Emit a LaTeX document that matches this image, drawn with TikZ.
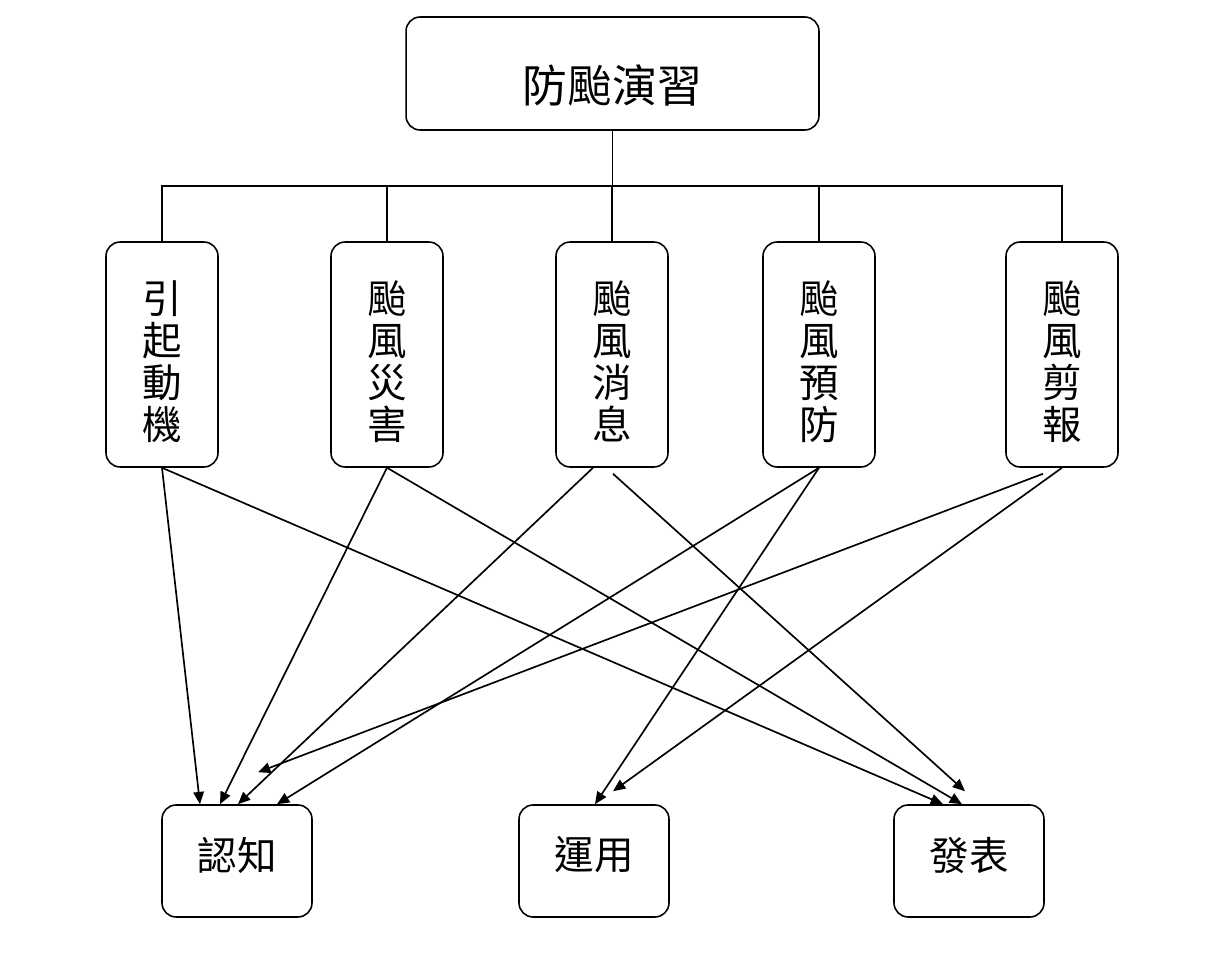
\documentclass[tikz,border=0pt]{standalone}
\usepackage{fontspec}
\setmainfont{Noto Sans CJK TC}
\usetikzlibrary{arrows.meta,calc}

\tikzset{
    box/.style={draw, rounded corners=8pt, line width=0.9pt, align=center},
    colbox/.style={box, minimum width=2.24cm, minimum height=4.5cm,
        font=\fontsize{22.5}{23.8}\selectfont},
    goalbox/.style={box, minimum width=3cm, minimum height=2.24cm,
        font=\fontsize{22.5}{24}\selectfont},
    link/.style={line width=0.95pt, -{Triangle[length=7pt,width=6pt]}}
}

\begin{document}
\begin{tikzpicture}[x=0.02cm, y=-0.02cm]
        \useasboundingbox (0,0) rectangle (1218,979);

        % Title
        \node[box, minimum width=8.26cm, minimum height=2.26cm,
            font=\fontsize{25.5}{27}\selectfont] (drill) at (612.5,73.5)
            {\raisebox{-6.8pt}[\height][\depth]{防颱演習}};

        % Activities
        \foreach \name/\x/\txt in {act1/162/引\\起\\動\\機, act2/387/颱\\風\\災\\害,
                act3/612/颱\\風\\消\\息, act4/819/颱\\風\\預\\防, act5/1062/颱\\風\\剪\\報} {
            \node[colbox] (\name) at (\x,354.5)
                {\raisebox{-4pt}[\height][\depth]{\parbox{1em}{\centering\txt}}};
        }

        % Goals
        \node[goalbox] (know) at (237,861) {\raisebox{3.4pt}[\height][\depth]{認知}};
        \node[goalbox] (use) at (594,861) {\raisebox{3.4pt}[\height][\depth]{運用}};
        \node[goalbox] (show) at (969,861) {\raisebox{3.4pt}[\height][\depth]{發表}};

        % Tree lines
        \coordinate (bus) at (612.5,186);
        \draw[line width=0.9pt] (drill.south) -- (bus);
        \foreach \i in {1,...,5} {
            \draw[line width=0.9pt] (act\i.north) |- (bus);
        }

        % Links from activities to goals
        \draw[link] (act1.south) -- ($(know.north)+(-37,0)$);
        \draw[link] (act1.south) -- ($(show.north)+(-26,0)$);
        \draw[link] (act2.south) -- ($(know.north)+(-17,0)$);
        \draw[link] (act2.south) -- ($(show.north)+(-7,0)$);
        \draw[link] ($(act3.south)+(-19,0)$) -- ($(know.north)+(1,0)$);
        \draw[link] ($(act3.south)+(1,6)$) -- ($(show.north)+(-4,-13)$);
        \draw[link] (act4.south) -- ($(know.north)+(40,0)$);
        \draw[link] (act4.south) -- ($(use.north)+(1,0)$);
        \draw[link] ($(act5.south)+(-19,6)$) -- ($(know.north)+(21,-32)$);
        \draw[link] (act5.south) -- ($(use.north)+(19,-13)$);
\end{tikzpicture}
\end{document}
